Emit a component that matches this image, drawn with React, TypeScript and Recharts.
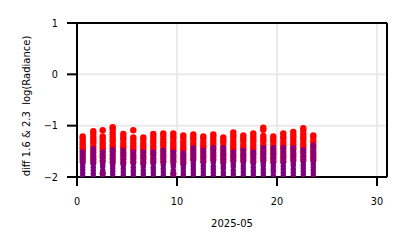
import React from "react";
import {
  ScatterChart,
  Scatter,
  XAxis,
  YAxis,
  CartesianGrid,
  ReferenceLine,
} from "recharts";

// day positions (2025-05, day of month offset)
const dayX = [
  0.57, 1.63, 2.57, 3.57, 4.63, 5.63, 6.63, 7.63, 8.63, 9.63, 10.63, 11.63,
  12.63, 13.63, 14.63, 15.63, 16.63, 17.63, 18.63, 19.63, 20.63, 21.63, 22.63,
  23.63,
];

// red series values per day
const redY: number[][] = [
  [-1.21, -1.25, -1.31, -1.36, -1.42, -1.47, -1.52, -1.58, -1.64, -1.7],
  [-1.11, -1.16, -1.23, -1.29, -1.34, -1.41, -1.47, -1.53, -1.6, -1.66, -1.72],
  [-1.09, -1.21, -1.26, -1.32, -1.37, -1.44, -1.5, -1.56, -1.62, -1.69, -1.93],
  [-1.03, -1.07, -1.14, -1.2, -1.26, -1.31, -1.38, -1.44, -1.5, -1.57, -1.64, -1.71],
  [-1.16, -1.22, -1.27, -1.34, -1.4, -1.45, -1.52, -1.58, -1.65, -1.72],
  [-1.09, -1.23, -1.28, -1.34, -1.4, -1.46, -1.51, -1.58, -1.64, -1.71],
  [-1.23, -1.28, -1.35, -1.41, -1.47, -1.52, -1.59, -1.65, -1.72],
  [-1.16, -1.22, -1.28, -1.33, -1.4, -1.46, -1.52, -1.57, -1.65, -1.71],
  [-1.15, -1.2, -1.27, -1.33, -1.38, -1.45, -1.51, -1.57, -1.63, -1.7],
  [-1.15, -1.21, -1.26, -1.33, -1.39, -1.45, -1.5, -1.57, -1.63, -1.7, -1.94],
  [-1.19, -1.24, -1.31, -1.37, -1.43, -1.48, -1.55, -1.61, -1.67, -1.73],
  [-1.17, -1.23, -1.28, -1.35, -1.41, -1.47, -1.53, -1.59, -1.66],
  [-1.21, -1.26, -1.33, -1.39, -1.44, -1.51, -1.57, -1.63, -1.7],
  [-1.17, -1.22, -1.29, -1.35, -1.41, -1.46, -1.53, -1.59, -1.66],
  [-1.23, -1.29, -1.34, -1.41, -1.47, -1.53, -1.58, -1.65, -1.71],
  [-1.13, -1.19, -1.24, -1.31, -1.37, -1.43, -1.48, -1.55, -1.61, -1.68],
  [-1.19, -1.25, -1.3, -1.37, -1.43, -1.48, -1.55, -1.61, -1.68],
  [-1.15, -1.21, -1.27, -1.32, -1.39, -1.45, -1.51, -1.56, -1.63, -1.7],
  [-1.04, -1.08, -1.2, -1.26, -1.31, -1.38, -1.44, -1.5, -1.55, -1.62, -1.68],
  [-1.21, -1.27, -1.32, -1.39, -1.45, -1.51, -1.56, -1.63, -1.7],
  [-1.15, -1.21, -1.26, -1.33, -1.39, -1.44, -1.51, -1.57, -1.63, -1.7],
  [-1.12, -1.18, -1.23, -1.3, -1.36, -1.42, -1.47, -1.54, -1.6, -1.67],
  [-1.05, -1.1, -1.17, -1.23, -1.28, -1.35, -1.41, -1.47, -1.53, -1.6, -1.67],
  [-1.19, -1.24, -1.31, -1.37, -1.42, -1.49, -1.55, -1.61, -1.67],
];

// purple series values per day
const purpleY: number[][] = [
  [-1.51, -1.56, -1.62, -1.68, -1.74, -1.8, -1.86, -1.92, -1.98],
  [-1.45, -1.51, -1.56, -1.63, -1.69, -1.74, -1.81, -1.87, -1.93, -1.99],
  [-1.51, -1.57, -1.62, -1.69, -1.75, -1.8, -1.87, -1.93, -1.99],
  [-1.47, -1.52, -1.59, -1.65, -1.7, -1.77, -1.83, -1.89, -1.95],
  [-1.48, -1.54, -1.59, -1.66, -1.72, -1.77, -1.84, -1.9, -1.96],
  [-1.51, -1.56, -1.63, -1.69, -1.74, -1.81, -1.87, -1.92, -1.98],
  [-1.51, -1.57, -1.62, -1.69, -1.75, -1.8, -1.87, -1.93, -1.99],
  [-1.51, -1.56, -1.63, -1.69, -1.74, -1.81, -1.86, -1.92, -1.98],
  [-1.48, -1.54, -1.59, -1.66, -1.72, -1.77, -1.84, -1.9, -1.96],
  [-1.51, -1.57, -1.62, -1.68, -1.75, -1.8, -1.87, -1.93, -1.99],
  [-1.53, -1.58, -1.64, -1.7, -1.76, -1.82, -1.88, -1.94, -1.99],
  [-1.43, -1.49, -1.55, -1.61, -1.67, -1.73, -1.79, -1.85, -1.91, -1.97],
  [-1.48, -1.53, -1.6, -1.66, -1.71, -1.78, -1.84, -1.9, -1.96],
  [-1.43, -1.49, -1.54, -1.61, -1.67, -1.72, -1.79, -1.85, -1.91, -1.97],
  [-1.43, -1.48, -1.55, -1.61, -1.66, -1.73, -1.79, -1.84, -1.91, -1.97],
  [-1.51, -1.57, -1.62, -1.69, -1.75, -1.8, -1.87, -1.93, -1.99],
  [-1.48, -1.54, -1.59, -1.66, -1.72, -1.78, -1.84, -1.9, -1.96],
  [-1.51, -1.56, -1.63, -1.69, -1.74, -1.81, -1.87, -1.92, -1.98],
  [-1.43, -1.49, -1.55, -1.6, -1.67, -1.73, -1.78, -1.85, -1.91, -1.97],
  [-1.43, -1.48, -1.55, -1.61, -1.66, -1.73, -1.79, -1.85, -1.9, -1.97],
  [-1.43, -1.49, -1.54, -1.61, -1.67, -1.72, -1.79, -1.85, -1.91, -1.97],
  [-1.43, -1.49, -1.55, -1.6, -1.67, -1.73, -1.78, -1.85, -1.91, -1.97],
  [-1.47, -1.52, -1.59, -1.65, -1.71, -1.77, -1.83, -1.89, -1.95],
  [-1.38, -1.45, -1.51, -1.56, -1.63, -1.69, -1.75, -1.81, -1.87, -1.93, -1.99],
];

const xTicks = [0, 10, 20, 30];
const yTicks = [-2, -1, 0, 1];
const xLabel = "2025-05";
const yLabel = "diff 1.6 & 2.3\u00a0\u00a0log(Radiance)";

const redData = dayX.flatMap((x, i) => redY[i].map((y) => ({ x, y })));
const purpleData = dayX.flatMap((x, i) => purpleY[i].map((y) => ({ x, y })));

const FONT = "DejaVu Sans, sans-serif";
const TICK_FS = 9.7;
const LABEL_FS = 10;

const fmtY = (v: number) => (v < 0 ? "\u2212" + Math.abs(v) : String(v));

const RedDot = (p: any) => <circle cx={p.cx} cy={p.cy} r={3.2} fill="#ff0000" />;
const PurpleDot = (p: any) => <circle cx={p.cx} cy={p.cy} r={2.7} fill="#800080" />;

const XTick = (p: any) => (
  <text x={p.x} y={p.y} dy={7} textAnchor="middle" fontSize={TICK_FS} fill="#000" fontFamily={FONT}>
    {String(p.payload.value)}
  </text>
);
const YTick = (p: any) => (
  <text x={p.x} y={p.y} dy={3.5} textAnchor="end" fontSize={TICK_FS} fill="#000" fontFamily={FONT}>
    {fmtY(p.payload.value)}
  </text>
);

const XLabel = (p: any) => {
  const vb = p.viewBox || {};
  return (
    <text x={vb.x + vb.width / 2} y={vb.y + 50} textAnchor="middle" fontSize={LABEL_FS} fill="#000" fontFamily={FONT}>
      {xLabel}
    </text>
  );
};
const YLabel = (p: any) => {
  const vb = p.viewBox || {};
  const cx = vb.x + 30;
  const cy = vb.y + vb.height / 2 + 6;
  return (
    <text x={cx} y={cy} transform={`rotate(-90 ${cx} ${cy})`} textAnchor="middle" fontSize={LABEL_FS} fill="#000" fontFamily={FONT}>
      {yLabel}
    </text>
  );
};

export default function App() {
  return (
    <div style={{ position: "absolute", left: 0, top: 0, background: "#fff" }}>
      <ScatterChart width={407} height={248} margin={{ top: 23, right: 20, bottom: 0, left: 0 }}>
        <CartesianGrid stroke="#ebebeb" strokeWidth={2} />
        <XAxis
          type="number"
          dataKey="x"
          domain={[0, 31]}
          ticks={xTicks}
          height={71}
          allowDataOverflow
          tickSize={9}
          tickMargin={12}
          axisLine={{ stroke: "#000", strokeWidth: 2 }}
          tickLine={{ stroke: "#000", strokeWidth: 2 }}
          tick={XTick}
          label={<XLabel />}
        />
        <YAxis
          type="number"
          dataKey="y"
          domain={[-2, 1]}
          ticks={yTicks}
          width={77}
          allowDataOverflow
          tickSize={10}
          tickMargin={9}
          axisLine={{ stroke: "#000", strokeWidth: 2 }}
          tickLine={{ stroke: "#000", strokeWidth: 2 }}
          tick={YTick}
          label={<YLabel />}
        />
        <ReferenceLine y={1} stroke="#000" strokeWidth={2} ifOverflow="visible" />
        <ReferenceLine x={31} stroke="#000" strokeWidth={2} ifOverflow="visible" />
        <Scatter data={redData} shape={RedDot} isAnimationActive={false} />
        <Scatter data={purpleData} shape={PurpleDot} isAnimationActive={false} />
      </ScatterChart>
    </div>
  );
}
